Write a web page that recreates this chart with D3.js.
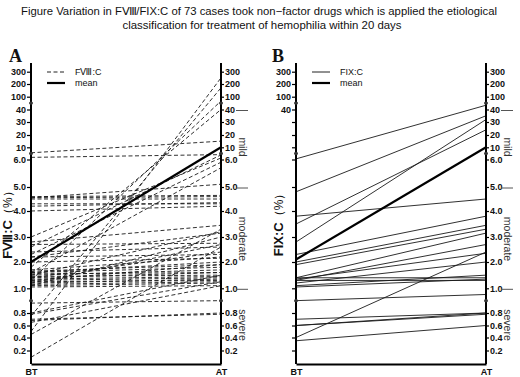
<!DOCTYPE html>
<html lang="en">
<head>
<meta charset="UTF-8">
<title>FVIII/FIX:C before and after treatment</title>
<script src="https://d3js.org/d3.v7.min.js"></script>
<style>
  body { margin: 0; background: #fff; }
  text { font-family: "Liberation Sans", Arial, sans-serif; fill: #111; }
</style>
</head>
<body>
<div id="chart"></div>
<script>
// ---- data ----
const timePoints = ["BT", "AT"];
const tickValues = [300, 200, 100, 40, 30, 20, 10, 6, 5, 4, 3, 2, 1, 0.8, 0.6, 0.4, 0.2];
const tickLabels = ["300", "200", "100", "40", "30", "20", "10", "6.0", "5.0", "4.0", "3.0", "2.0", "1.0", "0.8", "0.6", "0.4", "0.2"];
const gradeNames = ["mild", "moderate", "severe"];
const gradeCuts = [40, 5, 1];

// FVIII:C per case, before (BT) and after (AT)
const fviiiBT = [8.2, 6.7, 4.55, 4.55, 4.5, 4.6, 4.3, 4.2, 4.0,
  0.5, 0.75, 1.3, 1.8, 2.6, 3.0, 2.3, 1.6, 0.1, 0.45,
  1.7, 1.65, 1.6, 1.6, 1.55, 1.5, 1.5, 1.45, 1.4, 1.4, 1.35, 1.3, 1.3, 1.25, 1.2, 1.2, 1.15, 1.1, 1.1, 1.05,
  2.2, 2.2, 2.0, 2.7, 2.8, 2.4,
  0.88, 0.8, 0.78, 0.7, 0.68, 0.65];
const fviiiAT = [15, 7.6, 5.1, 4.6, 4.5, 4.65, 4.3, 4.35, 4.2,
  250, 170, 80, 40, 7.5, 6.5, 5.9, 5.7, 2.6, 3.3,
  2.2, 1.9, 1.8, 2.0, 1.6, 1.7, 3.2, 1.5, 1.6, 2.4, 1.45, 1.4, 1.9, 1.3, 1.35, 2.7, 1.25, 1.2, 3.0, 1.1,
  2.3, 3.15, 2.15, 2.75, 3.45, 2.6,
  0.9, 1.5, 1.25, 0.78, 0.8, 1.1];
const fviiiMean = [2.0, 10];

// FIX:C per case
const fixBT = [6.2, 4.8, 3.5, 2.8, 3.8, 2.3, 2.0, 1.9, 1.4, 1.3, 1.35, 1.2, 1.1, 1.05, 1.4, 1.3, 0.9, 0.7, 0.6, 0.6, 0.35, 0.4];
const fixAT = [60, 35, 24, 32, 4.5, 3.8, 3.45, 3.3, 3.15, 2.7, 2.35, 2.0, 1.5, 1.35, 1.4, 1.3, 0.95, 0.8, 0.78, 0.8, 0.6, 2.4];
const fixMean = [2.1, 10];

// ---- svg ----
const svg = d3.select("#chart").append("svg")
  .attr("width", 520).attr("height", 377);

svg.append("text").attr("x", 259).attr("y", 15)
  .attr("text-anchor", "middle").style("font-size", "11px")
  .attr("textLength", 476).attr("lengthAdjust", "spacingAndGlyphs")
  .text("Figure  Variation in FⅧ/FIX:C of 73 cases took non−factor drugs which is applied the etiological");
svg.append("text").attr("x", 262).attr("y", 29)
  .attr("text-anchor", "middle").style("font-size", "11px")
  .attr("textLength", 279).attr("lengthAdjust", "spacingAndGlyphs")
  .text("classification for treatment of hemophilia within 20 days");

// broken vertical scale shared by both panels
const y = d3.scaleLinear()
  .domain([0, 0.2, 0.4, 0.6, 0.8, 1, 2, 3, 4, 5, 6, 10, 20, 30, 40, 100, 200, 300])
  .range([364, 350.5, 337.5, 325.5, 313, 288.3, 262, 237, 211, 187, 159.5, 147.3, 135, 122, 109.5, 96.7, 84, 71.7]);

function drawPanel(opt) {
  const x = d3.scalePoint().domain(timePoints).range([opt.x0, opt.x1]);
  const g = svg.append("g");

  // case lines
  const cases = opt.bt.map((d, i) => [d, opt.at[i]]);
  const line = d3.line().x((d, i) => x(timePoints[i])).y(d => y(d));
  g.append("g").selectAll("path")
    .data(cases)
    .enter().append("path")
    .attr("d", line)
    .attr("fill", "none")
    .attr("stroke", "#1a1a1a")
    .attr("stroke-width", 0.9)
    .attr("stroke-dasharray", opt.dash);

  g.append("path").attr("d", line(opt.mean))
    .attr("fill", "none").attr("stroke", "#000").attr("stroke-width", 2.2);

  // left axis
  const left = g.append("g").attr("transform", `translate(${opt.x0},0)`)
    .call(d3.axisLeft(y).tickValues(tickValues).tickSize(4).tickPadding(1)
      .tickFormat((d, i) => opt.leftLabels ? (opt.leftLabels.includes(i) ? tickLabels[i] : "") : tickLabels[i]));
  // right axis
  const right = g.append("g").attr("transform", `translate(${opt.x1},0)`)
    .call(d3.axisRight(y).tickValues(tickValues).tickSize(3).tickPadding(1)
      .tickFormat((d, i) => tickLabels[i]));
  [left, right].forEach(a => {
    a.select(".domain").remove();
    a.selectAll("line").attr("stroke", "#000").attr("stroke-width", 1.2);
    a.selectAll("text").style("font-size", "9px").style("font-weight", "bold");
  });
  [opt.x0, opt.x1].forEach(xx => {
    g.append("line").attr("x1", xx).attr("x2", xx).attr("y1", 63).attr("y2", 364)
      .attr("stroke", "#000").attr("stroke-width", 2);
    // axis break marks
    [70, 8, 0.9].forEach(v => {
      g.append("ellipse").attr("cx", xx).attr("cy", y(v)).attr("rx", 2).attr("ry", 1.6)
        .attr("fill", "#333");
    });
  });

  // bottom axis
  const bottom = g.append("g").attr("transform", "translate(0,364)")
    .call(d3.axisBottom(x).tickSize(0).tickPadding(5));
  bottom.select(".domain").attr("stroke", "#000").attr("stroke-width", 2);
  bottom.selectAll("text").style("font-size", "9px").style("font-weight", "bold");

  // severity grades
  gradeCuts.forEach(v => {
    g.append("line").attr("x1", opt.x1 + 15).attr("x2", opt.x1 + 27)
      .attr("y1", y(v) + 1).attr("y2", y(v) + 1).attr("stroke", "#555").attr("stroke-width", 1);
  });
  const gradeMid = [147, 239, 325];
  gradeNames.forEach((n, i) => {
    g.append("text")
      .attr("transform", `translate(${opt.x1 + 18},${gradeMid[i]}) rotate(90)`)
      .attr("text-anchor", "middle").style("font-size", "10.5px").style("fill", "#333")
      .text(n);
  });

  // y label
  const yl = g.append("text")
    .attr("transform", `translate(${opt.labelX},222) rotate(-90)`)
    .attr("text-anchor", "middle");
  yl.append("tspan").style("font-size", "13px").style("font-weight", "bold").text(opt.yName);
  yl.append("tspan").style("font-size", "12px").text("（%）");

  // panel letter
  g.append("text").attr("x", opt.letterX).attr("y", 62)
    .style("font-family", "'Liberation Serif', serif").style("font-weight", "bold")
    .style("font-size", "18px").text(opt.letter);

  // legend
  const lg = g.append("g").attr("transform", `translate(${opt.legendX},0)`);
  lg.append("line").attr("x1", 0).attr("x2", 18).attr("y1", 72).attr("y2", 72)
    .attr("stroke", "#222").attr("stroke-width", 1).attr("stroke-dasharray", opt.dash);
  lg.append("line").attr("x1", 0).attr("x2", 18).attr("y1", 83).attr("y2", 83)
    .attr("stroke", "#000").attr("stroke-width", 2.2);
  lg.append("text").attr("x", 28).attr("y", 75).style("font-size", "9px").text(opt.legendName);
  lg.append("text").attr("x", 28).attr("y", 86).style("font-size", "9px").text("mean");
}

drawPanel({
  x0: 31, x1: 221, bt: fviiiBT, at: fviiiAT, mean: fviiiMean, dash: "4,2.5",
  yName: "FⅧ:C", labelX: 12, letter: "A", letterX: 9, legendX: 47, legendName: "FⅧ:C"
});
drawPanel({
  x0: 296, x1: 486, bt: fixBT, at: fixAT, mean: fixMean, dash: null,
  yName: "FIX:C", labelX: 283, letter: "B", letterX: 272, legendX: 312, legendName: "FIX:C",
  leftLabels: [0, 1, 2, 3]
});
</script>
</body>
</html>
